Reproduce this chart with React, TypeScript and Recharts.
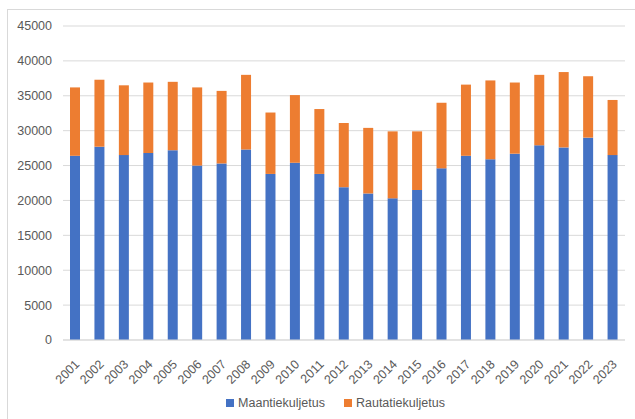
import React from "react";
import { BarChart, Bar, XAxis, YAxis, CartesianGrid } from "recharts";

const years = [
  "2001", "2002", "2003", "2004", "2005", "2006", "2007", "2008", "2009", "2010", "2011", "2012",
  "2013", "2014", "2015", "2016", "2017", "2018", "2019", "2020", "2021", "2022", "2023",
];

// road transport (Maantiekuljetus)
const road = [
  26400, 27700, 26500, 26800, 27200, 25000, 25300, 27300, 23800, 25400, 23800, 21900,
  21000, 20300, 21500, 24600, 26400, 25900, 26700, 27900, 27600, 29000, 26500,
];

// rail transport (Rautatiekuljetus)
const rail = [
  9800, 9600, 10000, 10100, 9800, 11200, 10400, 10700, 8800, 9700, 9300, 9200,
  9400, 9600, 8400, 9400, 10200, 11300, 10200, 10100, 10800, 8800, 7900,
];

const yTicks = [0, 5000, 10000, 15000, 20000, 25000, 30000, 35000, 40000, 45000];

const BLUE = "#4472C4";
const ORANGE = "#ED7D31";
const TEXT = "#595959";
const FONT = "'Liberation Sans', Arial, sans-serif";

const data = years.map((y, i) => ({ year: y, road: road[i], rail: rail[i] }));

const YearTick = (props: any) => {
  const { x, y, payload } = props;
  return (
    <text
      x={x + 5}
      y={y + 17}
      transform={`rotate(-45, ${x + 5}, ${y + 17})`}
      textAnchor="end"
      fill={TEXT}
      fontSize={12.5}
      fontFamily={FONT}
    >
      {payload.value}
    </text>
  );
};

const App = () => {
  return (
    <div style={{ position: "absolute", left: 0, top: 0, width: 635, height: 419, overflow: "hidden", background: "#fff" }}>
      <div
        style={{
          position: "absolute",
          left: 7,
          top: 9,
          width: 640,
          height: 420,
          border: "1px solid #d9d9d9",
        }}
      />
      <div style={{ position: "absolute", left: 0, top: 0 }}>
        <BarChart
          width={635}
          height={419}
          data={data}
          margin={{ top: 26, right: 10, left: 0, bottom: 0 }}
          barSize={10}
        >
          <CartesianGrid vertical={false} stroke="#d9d9d9" />
          <XAxis
            dataKey="year"
            height={79}
            tickLine={false}
            axisLine={{ stroke: "#d9d9d9" }}
            interval={0}
            tick={<YearTick />}
          />
          <YAxis
            width={63}
            domain={[0, 45000]}
            ticks={yTicks}
            axisLine={false}
            tickLine={false}
            tickSize={0}
            tickMargin={11}
            tick={{ fill: TEXT, fontSize: 12.5, fontFamily: FONT }}
          />
          <Bar dataKey="road" stackId="a" fill={BLUE} isAnimationActive={false} />
          <Bar dataKey="rail" stackId="a" fill={ORANGE} isAnimationActive={false} />
        </BarChart>
      </div>
      <div
        style={{
          position: "absolute",
          top: 395,
          left: 18,
          width: 635,
          display: "flex",
          justifyContent: "center",
          fontFamily: FONT,
          fontSize: 12.5,
          color: TEXT,
          lineHeight: "16px",
        }}
      >
        <div style={{ display: "flex", alignItems: "center", marginRight: 19 }}>
          <span style={{ width: 8, height: 8, background: BLUE, marginRight: 4, display: "inline-block" }} />
          Maantiekuljetus
        </div>
        <div style={{ display: "flex", alignItems: "center" }}>
          <span style={{ width: 8, height: 8, background: ORANGE, marginRight: 4, display: "inline-block" }} />
          Rautatiekuljetus
        </div>
      </div>
    </div>
  );
};

export default App;
